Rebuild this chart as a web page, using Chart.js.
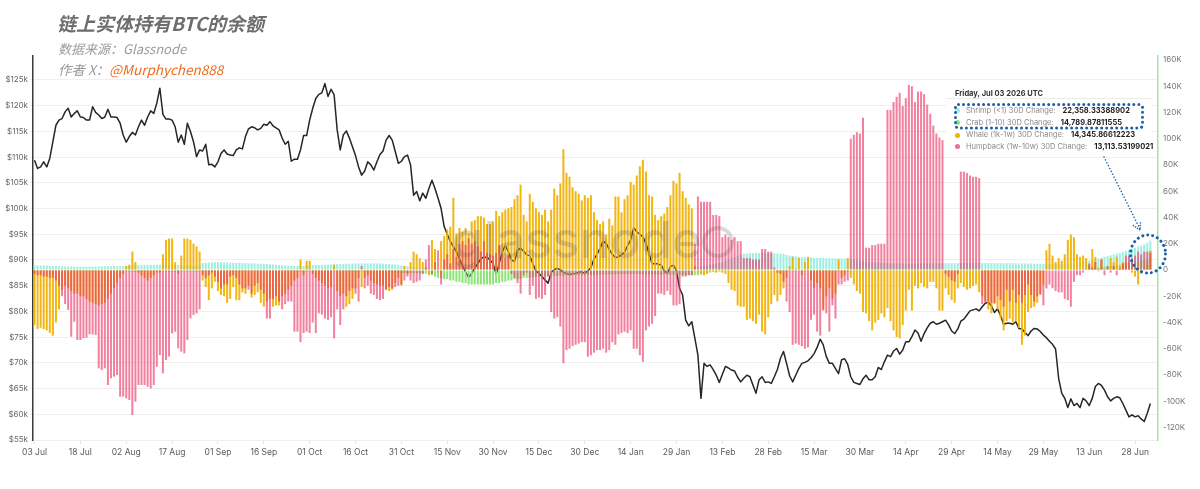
<!DOCTYPE html>
<html><head><meta charset="utf-8">
<script src="https://cdn.jsdelivr.net/npm/chart.js@4.4.0/dist/chart.umd.min.js"></script>
<style>
html,body{margin:0;padding:0;background:#fff;}
#wrap{position:relative;width:1200px;height:489px;overflow:hidden;background:#fff;}
#c{position:absolute;left:0;top:0;}
.t{position:absolute;white-space:nowrap;font-family:'Noto Sans CJK SC','Noto Sans',sans-serif;}
.row{position:absolute;left:955px;height:12px;line-height:12px;font-family:Inter,'Noto Sans',sans-serif;font-size:7.5px;white-space:nowrap;display:flex;align-items:center;}
.dot{width:5px;height:5px;border-radius:50%;margin-right:6px;display:inline-block;}
.lbl{color:#8a8a8a;}
.val{color:#222;font-weight:700;margin-left:7px;}
</style></head><body>
<div id="wrap">
<canvas id="c" width="1200" height="489"></canvas>
<div class="t" style="left:57px;top:12px;font-size:19px;line-height:22px;font-weight:700;font-style:italic;color:#6d6d6d;">链上实体持有BTC的余额</div>
<div class="t" style="left:58px;top:41px;font-size:13px;line-height:16px;font-style:italic;color:#9b9b9b;">数据来源：Glassnode</div>
<div class="t" style="left:58px;top:61px;font-size:13.5px;line-height:16px;font-style:italic;color:#9b9b9b;">作者 X：<span style="color:#f06a1c">@Murphychen888</span></div>
<div style="position:absolute;left:946px;top:84px;width:206px;height:73px;background:#fff;"></div>
<div class="t" style="left:955px;top:89px;font-family:Inter,sans-serif;font-size:7.5px;line-height:9px;font-weight:700;color:#333;">Friday, Jul 03 2026 UTC</div>
<div style="position:absolute;left:946px;top:98px;width:206px;height:1px;background:#ececec;"></div>
<div class="row" style="top:104.7px"><span class="dot" style="background:#9ff0e3"></span><span class="lbl">Shrimp (&lt;1) 30D Change:</span><span class="val">22,358.33388902</span></div>
<div class="row" style="top:116.7px"><span class="dot" style="background:#8fe27a"></span><span class="lbl">Crab (1-10) 30D Change:</span><span class="val">14,789.87811555</span></div>
<div class="row" style="top:129px"><span class="dot" style="background:#f2b300"></span><span class="lbl">Whale (1k-1w) 30D Change:</span><span class="val">14,345.86612223</span></div>
<div class="row" style="top:140.7px"><span class="dot" style="background:#ee6f94"></span><span class="lbl">Humpback (1w-10w) 30D Change:</span><span class="val">13,113.53199021</span></div>
<svg width="1200" height="489" style="position:absolute;left:0;top:0;pointer-events:none">
<rect x="955.5" y="104.5" width="187" height="23.5" rx="3" fill="none" stroke="#1d5fa6" stroke-width="3" stroke-dasharray="0.01 5" stroke-linecap="round"/>
<line x1="1104" y1="157" x2="1140" y2="229" stroke="#1d5fa6" stroke-width="1.6" stroke-dasharray="0.01 3.2" stroke-linecap="round"/>
<polyline points="1133.3,225.6 1140,230 1140.5,222" fill="none" stroke="#1d5fa6" stroke-width="1.6" stroke-dasharray="0.01 2.5" stroke-linecap="round"/>
<ellipse cx="1148" cy="254" rx="17.5" ry="19" fill="none" stroke="#1d5fa6" stroke-width="3" stroke-dasharray="0.01 5" stroke-linecap="round"/>
</svg>
</div>
<script>
// ---------- DATA ----------
const startDate = Date.UTC(2025, 6, 3);   // first category: 03 Jul 2025
const extraDays = 2;                       // empty categories after the last bar
const xTickLabels = ['03 Jul','18 Jul','02 Aug','17 Aug','01 Sep','16 Sep','01 Oct','16 Oct','31 Oct','15 Nov','30 Nov','15 Dec','30 Dec','14 Jan','29 Jan','13 Feb','28 Feb','15 Mar','30 Mar','14 Apr','29 Apr','14 May','29 May','13 Jun','28 Jun'];
const leftTicks = [55,60,65,70,75,80,85,90,95,100,105,110,115,120,125];
const rightTicks = [-120,-100,-80,-60,-40,-20,0,20,40,60,80,100,120,140,160];

// BTC price (thousand USD)
const priceK = [
109.4,107.8,108.1,109.1,108.1,109.8,113,116.2,117.2,117.5,
118.8,119.5,117.8,118.5,119,117.8,117.7,117.2,117.2,119.8,
118.7,118.2,117.5,117.8,119.3,117.8,117.8,117.7,116.6,114.3,
112.9,114,114.8,114.3,115.9,117.2,116.2,117.8,119,118.5,
120.5,123.4,118.3,117.4,117.4,117.2,115.9,112.9,114.3,112.5,
116.6,115,113,110.1,111.4,111.2,112.5,108.5,108.6,108.1,
109.1,110.7,111.4,110.6,110.4,110.3,111.4,111.8,111.6,114,
115.5,115.9,115.7,115.3,115.6,116.4,116.2,116.9,116.1,115.7,
115.3,113.7,112.5,113.1,109.2,109.6,109.6,111.4,114.2,114.2,
117.2,119.5,121.4,122.2,122.5,124.3,121.8,123.2,122.1,115.3,
111.4,114.3,115.1,113.7,112,110.3,108.1,106.5,107.3,109.1,
108.5,107.5,109.1,110.5,111.2,113.3,114.2,113.3,111.1,108.8,
109.2,110.1,110.4,108.5,102.6,103.3,101.5,103,102,103.9,
105.5,103.9,102,100,96.5,95,93.6,92.6,91.6,90.2,
88.9,87.7,86.6,87.4,88.4,89.3,90.2,90.6,90.5,90,
89.3,87.2,89.3,91.6,92.8,91.6,90,89.7,91.9,92.3,
91.7,91,90.8,89.3,87.9,87.4,86.8,86.1,85.5,87.6,
88.1,88.4,88.1,87.6,87.4,87.2,87.3,87.4,87.6,87.7,
87.4,87.9,88.5,90.2,91.1,92.3,93.6,93.3,92,91.1,
90.5,90.6,91,91.5,92.8,93.9,96.3,95.5,95,94.5,
93.2,91.3,89.2,89.3,89.2,89,87.9,87.4,88.7,89,
87.9,84.5,83.2,78.3,77.2,78,74.8,71.5,63.1,69.9,
69.3,69.6,68.7,67.6,66.2,67.8,69.3,69,68.6,68.4,
67.2,66.3,67,67.6,67.3,65.7,64.1,66.7,67.3,66.2,
66.3,66,67.3,68.7,70.9,72.2,69.9,67.5,66.3,67.6,
68.9,69.9,70.1,70.4,71,71.8,73,74.6,73.5,71.2,
69.9,69.9,68.9,67.9,70.6,70.8,69.7,67.3,66.2,66,
65.8,66.9,67.6,66.7,66.7,67.3,69.1,68.7,70.2,71.5,
71.2,72.3,72.8,71.7,72.5,74.1,74.1,75.1,76.4,75.8,
74.2,75.7,76.8,77.7,78,77.5,77.7,78,78.3,77.4,
76.2,75.7,76.6,78.1,78.5,79.3,80.1,80.3,80.5,80.1,
80.9,81.6,81.8,81.1,79.8,80.5,79.2,77.5,77.7,77.7,
77.5,78,76.7,76.6,75.9,75.3,76.2,76.7,76.6,76.1,
75.4,74.9,74.2,73.6,72.7,67,64.1,63.1,61.3,63,
61.7,62.1,61.3,63.1,62.6,61.7,63.1,65.4,66,65.6,
64.7,63.4,62.6,63.1,63.4,63.2,62.1,60.8,59.5,59.9,
59.5,59.7,59.1,58.6,60.2,62.1];

// 30D balance change (thousand BTC)
const shrimp = [
3.6,3.5,3.4,3.5,3.3,3.2,3.1,3.0,2.9,2.8,
2.8,2.7,2.7,2.6,2.6,2.5,2.6,2.6,2.7,2.6,
2.6,2.7,2.8,2.8,2.9,2.9,3.0,3.0,3.1,3.1,
3.3,3.4,3.5,3.6,3.6,3.7,3.8,3.9,4.0,4.0,
4.1,4.1,4.0,4.0,3.9,3.9,3.8,3.8,3.7,3.6,
3.6,3.5,3.5,3.4,3.4,5.2,5.5,5.7,5.8,5.9,
6.0,5.9,5.8,5.7,5.6,5.5,5.4,5.4,5.3,5.2,
5.1,5.0,5.0,4.9,4.8,4.7,4.6,4.4,4.2,4.0,
3.8,3.6,3.4,3.2,3.0,3.0,3.1,3.2,3.3,3.4,
3.6,3.7,3.8,3.9,4.0,4.1,4.2,4.3,4.4,4.5,
4.6,4.7,4.8,4.8,4.9,4.9,5.0,5.0,5.0,5.1,
5.1,5.0,5.0,4.9,4.8,4.7,4.6,4.4,4.2,4.0,
3.6,3.2,2.8,2.4,2.0,1.8,1.6,1.5,1.4,1.3,
1.2,1.1,1.0,1.0,0.9,0.9,0.8,0.8,0.8,0.7,
0.7,0.7,0.6,0.6,0.6,0.5,0.5,0.5,0.5,0.5,
0.4,0.4,0.4,0.4,0.3,0.3,0.3,0.3,0.3,0.2,
0.2,0.2,0.2,0.2,0.2,0.1,0.1,0.1,0.1,0.1,
0.1,0.1,0.1,0.1,0.1,0.2,0.2,0.2,0.2,0.2,
0.3,0.3,0.3,0.3,0.4,0.4,0.4,0.5,0.5,0.5,
0.6,0.6,0.6,0.7,0.7,0.7,0.8,0.8,0.8,0.9,
0.9,0.9,1.0,1.0,1.0,1.1,1.1,1.1,1.2,1.2,
1.2,1.3,1.3,1.4,1.4,1.5,1.5,2.0,2.5,3.0,
3.5,4.0,4.5,5.0,5.5,6.0,7.0,8.0,9.0,10.0,
11.0,11.8,12.3,12.6,12.8,12.9,13.0,12.9,12.8,12.7,
12.7,12.6,12.6,12.5,12.4,12.3,11.5,11.0,10.6,10.3,
10.0,9.8,9.6,9.5,9.4,9.3,9.2,9.2,9.1,9.0,
9.0,8.9,8.9,8.8,8.8,8.7,8.6,8.4,8.0,7.6,
7.2,6.8,6.5,6.2,6.0,5.8,5.6,5.5,5.4,5.3,
5.2,5.1,5.0,5.0,4.9,4.9,4.8,4.8,4.8,4.9,
4.9,5.0,5.0,5.0,5.1,5.1,5.1,5.2,5.2,5.2,
5.3,5.3,5.3,5.4,5.4,5.4,5.4,5.5,5.5,5.5,
5.5,5.4,5.4,5.4,5.3,5.3,5.3,5.2,5.2,5.2,
5.1,5.1,5.0,5.0,5.0,4.9,4.9,4.8,4.8,4.7,
4.7,4.6,4.6,4.5,4.5,4.5,4.5,4.6,4.7,4.8,
4.9,5.2,5.6,6.0,6.5,7.0,7.6,8.2,8.8,9.4,
10.0,10.6,11.2,11.8,12.4,13.0,13.8,14.6,15.4,16.2,
17.0,17.8,18.6,19.5,20.8,22.358];

const crab = [
-1.2,-1.1,-1.0,-1.1,-1.2,-1.3,-1.2,-1.1,-1.0,-1.0,
-1.1,-1.2,-1.3,-1.2,-1.1,-1.0,-0.9,-1.0,-1.1,-1.2,
-1.3,-1.4,-1.3,-1.2,-1.1,-1.0,-1.0,-0.9,-0.9,-1.0,
-1.1,-1.2,-1.2,-1.3,-1.3,-1.2,-1.1,-1.0,-1.0,-0.9,
-0.9,-1.0,-1.1,-1.2,-1.3,-1.4,-1.4,-1.3,-1.2,-1.1,
-1.0,-1.0,-1.1,-1.2,-1.3,-1.4,-1.5,-1.5,-1.4,-1.3,
-1.2,-1.1,-1.0,-1.0,-1.1,-1.2,-1.3,-1.3,-1.2,-1.1,
-1.0,-1.0,-0.9,-0.9,-1.0,-1.1,-1.2,-1.3,-1.3,-1.2,
-1.1,-1.0,-1.0,-1.1,-1.2,-1.3,-1.4,-1.4,-1.3,-1.2,
-1.1,-1.0,-1.0,-1.1,-1.2,-1.3,-1.3,-1.2,-1.1,-1.0,
-1.0,-1.1,-1.2,-1.3,-1.4,-1.5,-1.5,-1.6,-1.6,-1.7,
-1.7,-1.8,-1.8,-1.9,-1.9,-2.0,-2.0,-2.1,-2.1,-2.2,
-2.2,-2.3,-2.3,-2.4,-2.4,-2.5,-2.5,-2.6,-2.8,-3.2,
-4,-5,-6,-6,-7,-7,-8,-8,-9,-9,
-10,-10,-11,-11,-11,-11,-11,-11,-11,-11,
-11,-10,-10,-9,-9,-8,-8,-7,-7,-7,
-6,-6,-6,-5.5,-5.5,-5,-5,-5,-4.8,-4.8,
-4.6,-4.6,-4.4,-4.4,-4.2,-4.2,-4,-4,-4,-4,
-3.8,-3.8,-3.6,-3.6,-3.5,-3.5,-3.4,-3.4,-3.3,-3.3,
-3.2,-3.2,-3.1,-3.1,-3,-3,-3,-3,-3.1,-3.1,
-3.2,-3.2,-3.3,-3.3,-3.4,-3.4,-3.5,-3.5,-3.6,-3.6,
-3.7,-3.8,-3.9,-4,-4,-4,-4,-4,-3.5,-3,
-2.5,-2,-1.5,-1.5,-1,-1,-0.8,-0.8,-0.6,-0.6,
-0.5,-0.5,-0.5,-0.5,-0.5,-0.5,-0.5,-0.5,-0.5,-0.5,
-0.6,-0.6,-0.7,-0.7,-0.8,-0.8,-0.9,-0.9,-1,-1,
-1,-1,-1,-1,-1,-1,-1,-1,-1,-1,
-1.1,-1.1,-1.2,-1.2,-1.2,-1.3,-1.3,-1.3,-1.2,-1.2,
-1.2,-1.1,-1.1,-1.1,-1.0,-1.0,-1.0,-0.9,-0.9,-0.9,
-0.9,-0.9,-0.8,-0.8,-0.8,-0.8,-0.7,-0.7,-0.7,-0.7,
-0.7,-0.7,-0.7,-0.8,-0.8,-0.8,-0.8,-0.9,-0.9,-0.9,
-0.9,-1.0,-1.0,-1.0,-1.0,-1.0,-1.1,-1.1,-1.1,-1.1,
-1.1,-1.1,-1.1,-1.0,-1.0,-1.0,-1.0,-0.9,-0.9,-0.9,
-0.9,-0.8,-0.8,-0.8,-0.7,-0.7,-0.7,-0.6,-0.6,-0.6,
-0.5,-0.5,-0.4,-0.4,-0.3,-0.3,-0.2,-0.2,-0.1,-0.1,
0.0,0.2,0.4,0.6,0.8,1.0,1.3,1.6,1.9,2.2,
2.5,2.8,3.1,3.4,3.7,4.0,4.4,4.8,5.2,5.6,
6.0,6.5,7.0,7.5,8.2,14.79];

const whale = [
-42,-45,-44,-45,-46,-48,-50,-40,-30,-15,
-12,-14,-16,-18,-18,-20,-20,-22,-24,-25,
-26,-27,-26,-25,-22,-18,-14,-10,-6,-3,
3,4,14,6,-2,-4,-6,-8,-6,-4,
-2,-2,12,23,24,24,6,-3,11,24,
24,23,20,18,14,-8,-13,-23,-14,-9,
-16,-19,-20,-25,-22,-13,-23,-23,-17,-18,
-12,-21,-19,-17,-25,-28,-24,-22,-28,-27,
-27,-20,-18,-15,-12,-8,-6,8,-4,7,
7,-3,-6,-8,-10,-12,-14,-13,4,-16,
-20,-18,-28,-26,-22,-14,-6,-13,-6,-4,
-8,-10,-11,-12,-12,-15,-16,-15,-10,-6,
-12,3,-3,6,14,12,9,6,2,-4,
23,16,-2,22,26,31,33,55,28,32,
29,32,28,37,38,41,41,40,35,35,
37,45,41,44,46,47,48,54,57,65,
42,37,58,52,47,44,42,46,37,46,
62,57,66,92,74,71,63,60,58,53,
57,55,57,44,38,35,37,27,39,34,
56,56,44,54,57,67,65,72,79,84,
75,57,56,42,38,41,43,48,57,68,
66,74,60,55,50,47,3,-2,-3,-4,
-3,-1,-1,-2,-1,-2,-3,-10,-15,-16,
-27,-28,-28,-38,-37,-39,-41,-34,-47,-49,
-36,-26,-19,-24,-19,-14,-6,3,10,1,
9,-4,6,10,-8,-14,-10,-14,-30,-20,
-14,-22,-18,8,-6,-4,9,-6,-11,-16,
-18,-32,-33,-39,-46,-40,-38,-33,-36,-29,
-39,-46,-51,-52,-42,-31,-15,-31,-12,-14,
-10,-13,-14,-9,-9,-14,-31,-31,-14,-19,
-23,-25,-14,-10,-13,-15,-14,-12,-11,-17,
-20,-24,-30,-33,-26,-30,-37,-46,-39,-37,
-40,-39,-44,-57,-50,-32,-29,-28,-25,-18,
-11,15,20,11,6,9,7,12,23,27,
25,12,10,11,9,4,16,10,1,8,
1,0,9,6,10,3,6,6,4,-2,
-5,-11,-3,1,4,14.346];

const humpback = [
-3,-4,-4,-5,-5,-6,-6,-8,-12,-20,
-26,-30.5,-50.8,-39.4,-53.3,-53.3,-52,-51.6,-49,-49,
-49.5,-74.9,-76.2,-74.9,-87.6,-82.5,-81.3,-80,-96.5,-96.5,
-97.8,-99,-110.5,-100.3,-87.6,-87.6,-87.6,-88.9,-90.2,-87.6,
-73.7,-64.8,-78.7,-68.6,-66,-48.3,-47,-59.7,-62.2,-63.5,
-53.3,-36.8,-34.3,-33,-30,-4,-6,-4,-2,-5,
-9,-14,-11,-11,-5,-4,-6,-11,-14,-14,
-15,-18,-12,-10,-15,-18,-37,-37,-22,-20,
-24,-30,-26,-24,-24,-47,-47,-55,-48,-47,
-48,-40,-48,-33,-34,-37,-38,-36,-52,-30,
-42,-30,-20,-16,-14,-18,-24,3,-14,-12,
-18,-19,-22,-23,-22,-15,-13,-14,-13,-12,
-11,-8,-5,-8,-10,-9,-8,-3,8,19,
-3,6,15,-11,8,12,5,16,10,20,
22,19,24,20,22,18,14,22,13,12,
11,13,19,12,9,11,-3,-6,-10,-18,
-4,-2,-19,-12,-22,-21,-22,-19,-5,-32,
-37,-36,-43,-71,-61,-60,-58,-57,-56,-55,
-55,-66,-65,-63,-61,-61,-60,-63,-61,-55,
-57,-49,-48,-47,-48,-46,-60,-60,-65,-70,
-46,-43,-41,-35,-18,-18,-19,-16,-19,-27,
-27,-26,-5,-5,-4,-4,20,56,52,52,
52,52,42,42,41,25,27,25,23,25,
22,22,9,9,9,8,8,8,16,16,
14,14,2,-2,-3,-9,-24,-32,-57,-56,
-57,-58,-60,-59,-38,-34,-47,-50,-31,-33,
-47,-27,-37,-11,-11,-9,-8,100,103,105,
104,116,17,17,19,19,20,20,20,122,
122,128,132,135,125,131,141,140,128,136,
136,134,126,119,110,104,101,99,-3,-5,
-8,-9,-3,75,75,74,72,71,71,70,
-26,-25,-24,-25,-25,-20,-23,-28,-15,-24,
-15,-25,-19,-25,-19,-11,-19,-24,-20,-19,
-27,-14,-11,-14,-16,-17,-17,-22,-23,-28,
-9,-4,-4,-2,0,5,2,6,-1,8,
-4,3,-2,3,-4,1,5,11,11,9,
11,14,12,14,14,13.114];

// ---------- CATEGORIES ----------
const MON = ['Jan','Feb','Mar','Apr','May','Jun','Jul','Aug','Sep','Oct','Nov','Dec'];
const dayLabels = [];
for (let i = 0; i < priceK.length + extraDays; i++) {
  const d = new Date(startDate + i * 86400000);
  dayLabels.push(String(d.getUTCDate()).padStart(2, '0') + ' ' + MON[d.getUTCMonth()]);
}

// ---------- CHART ----------
Chart.defaults.font.family = "Inter, 'Noto Sans', sans-serif";

const watermark = {
  id: 'watermark',
  afterDatasetsDraw(chart) {
    const ctx = chart.ctx;
    ctx.save();
    ctx.font = '500 54px Inter, sans-serif';
    const w = ctx.measureText('glassnode').width;
    const size = 54 * 250 / w;
    ctx.font = '500 ' + size.toFixed(1) + 'px Inter, sans-serif';
    ctx.fillStyle = 'rgba(70,70,70,0.2)';
    ctx.textBaseline = 'alphabetic';
    ctx.fillText('glassnode', 452, 258);
    ctx.beginPath();
    ctx.arc(718, 242, 14, 0, Math.PI * 2);
    ctx.lineWidth = 4;
    ctx.strokeStyle = 'rgba(70,70,70,0.2)';
    ctx.stroke();
    ctx.restore();
  }
};

const barCommon = { yAxisID: 'yR', grouped: false, categoryPercentage: 1, barPercentage: 0.66, borderWidth: 0 };

new Chart(document.getElementById('c'), {
  type: 'bar',
  data: {
    labels: dayLabels,
    datasets: [
      Object.assign({ label: 'Humpback (1w-10w) 30D Change', data: humpback, backgroundColor: 'rgba(232,52,100,0.62)', order: 1 }, barCommon),
      Object.assign({ label: 'Whale (1k-1w) 30D Change', data: whale, backgroundColor: 'rgba(240,176,0,0.92)', order: 2 }, barCommon),
      Object.assign({ label: 'Crab (1-10) 30D Change', data: crab, backgroundColor: 'rgba(140,228,118,1)', order: 3 }, barCommon),
      Object.assign({ label: 'Shrimp (<1) 30D Change', data: shrimp, backgroundColor: 'rgba(158,238,226,1)', order: 4 }, barCommon),
      { type: 'line', label: 'Price', data: priceK, yAxisID: 'yL', borderColor: '#262626', borderWidth: 1.5,
        pointRadius: 0, tension: 0, fill: false, order: 10, borderJoinStyle: 'round' }
    ]
  },
  options: {
    responsive: false, animation: false, devicePixelRatio: 1,
    layout: { padding: { top: 56, left: 0, right: 0, bottom: 0 } },
    plugins: { legend: { display: false }, tooltip: { enabled: false } },
    scales: {
      x: {
        type: 'category', offset: true,
        grid: { display: true, drawOnChartArea: false, drawTicks: true, tickLength: 4, color: '#e4e4e4', offset: false },
        border: { display: false },
        ticks: {
          autoSkip: false, maxRotation: 0, minRotation: 0, padding: 3,
          color: '#5a5a5a', font: { size: 8.5 },
          callback: (v, i) => (i % 15 === 0 && i / 15 < xTickLabels.length) ? xTickLabels[i / 15] : null
        },
        afterFit: s => { s.height = 49; }
      },
      yL: {
        position: 'left', min: 55, max: 55 + 384 / 5.143,
        grid: { color: '#efefef', lineWidth: 1, drawTicks: true, tickLength: 3 },
        border: { display: true, color: '#3a3a3a', width: 1.5 },
        ticks: { color: '#666', font: { size: 8 }, padding: 2, callback: v => '$' + v + 'k' },
        afterBuildTicks: s => { s.ticks = leftTicks.map(v => ({ value: v })); },
        afterFit: s => { s.width = 33; }
      },
      yR: {
        position: 'right', min: -170 / 1.3125, max: 214 / 1.3125,
        grid: { drawOnChartArea: false, drawTicks: false },
        border: { display: true, color: '#a4e6a0', width: 1.5 },
        ticks: { color: '#777', font: { size: 8 }, padding: 5, callback: v => v === 0 ? '0' : v + 'K' },
        afterBuildTicks: s => { s.ticks = rightTicks.map(v => ({ value: v })); },
        afterFit: s => { s.width = 42; }
      }
    }
  },
  plugins: [watermark]
});
</script>
</body></html>
